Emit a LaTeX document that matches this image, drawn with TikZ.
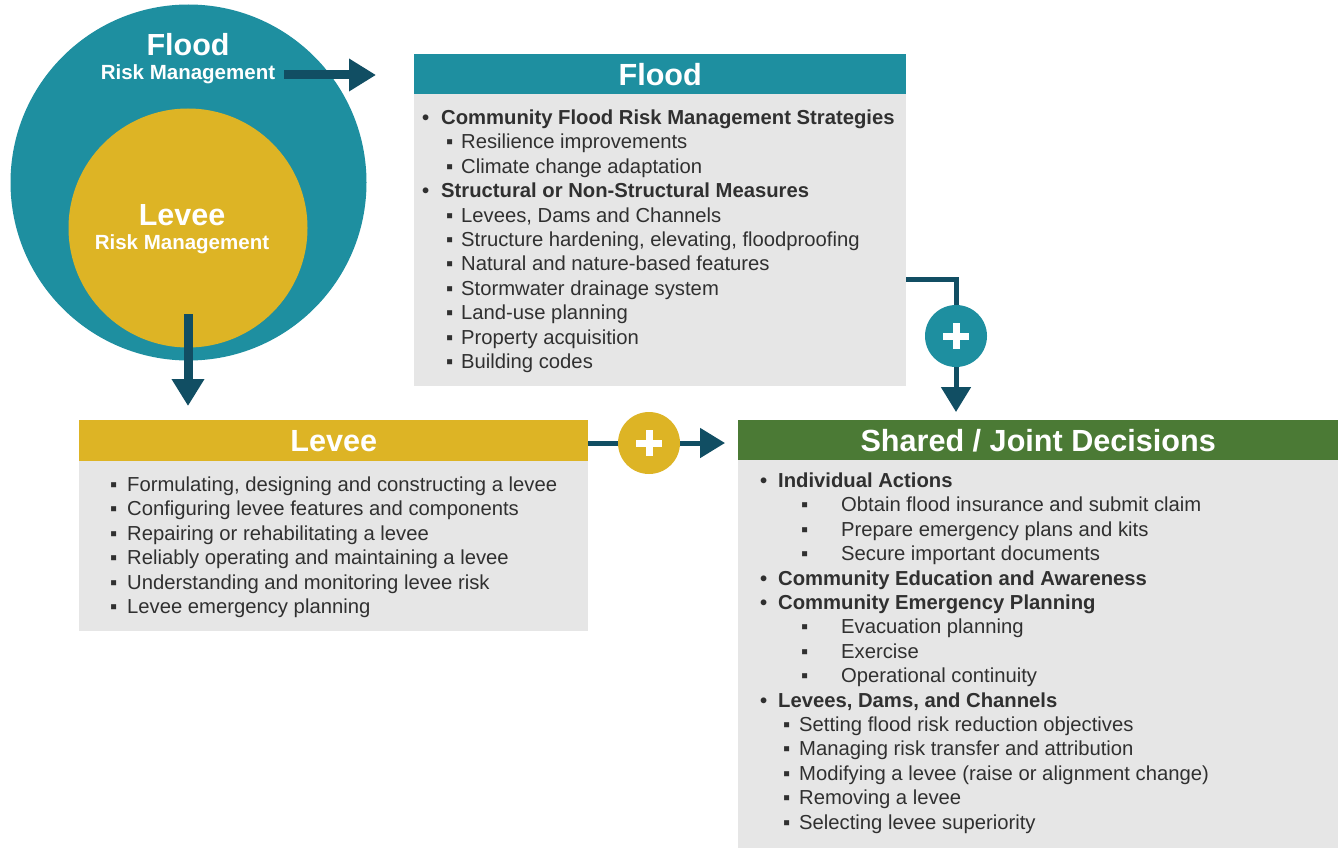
\documentclass[tikz,border=0pt]{standalone}
\usepackage{fontspec}
\setmainfont{Liberation Sans}
\usetikzlibrary{arrows.meta}
\definecolor{teal1}{HTML}{1E8FA0}
\definecolor{gold1}{HTML}{DDB425}
\definecolor{green1}{HTML}{4B7A35}
\definecolor{dark1}{HTML}{114E63}
\definecolor{grey1}{HTML}{E6E6E6}
\definecolor{txt}{HTML}{303030}
\tikzset{
  hdr/.style={rectangle, anchor=north west, inner sep=0pt, text=white,
    font=\fontsize{30.6}{32}\selectfont\bfseries, text height=21.8pt, text depth=0pt},
  bodybox/.style={rectangle, fill=grey1, anchor=north west, inner sep=0pt},
  mi/.style={anchor=base west, inner sep=0pt, text=txt, font=\fontsize{20.25}{24}\selectfont\bfseries},
  si/.style={anchor=base west, inner sep=0pt, text=txt, font=\fontsize{20.25}{24}\selectfont},
  ctitle/.style={anchor=base, inner sep=0pt, text=white, font=\fontsize{30.5}{32}\selectfont\bfseries},
  csub/.style={anchor=base, inner sep=0pt, text=white, font=\fontsize{20.5}{24}\selectfont\bfseries},
  bigarrow/.style={draw=dark1, line width=9pt, -{Triangle[length=27pt,width=31pt]}},
  conn/.style={draw=dark1, line width=5pt},
  connarrow/.style={draw=dark1, line width=5pt, -{Triangle[length=25pt,width=29pt]}},
  plusdisc/.style={circle, minimum size=62pt, inner sep=0pt},
  plusbar/.style={draw=white, line width=7pt}
}
\begin{document}
\begin{tikzpicture}[x=1pt,y=-1pt]
\useasboundingbox (0,0) rectangle (1338,848);
\fill[white] (0,0) rectangle (1338,848);

% circles
\node[circle, fill=teal1, minimum size=356pt, inner sep=0pt] (fc) at (188.5,182.5) {};
\node[circle, fill=gold1, minimum size=239pt, inner sep=0pt] (lc) at (188,228) {};
\node[ctitle] (fct) at (188,56) {Flood};
\node[csub] (fcs) at (188,80) {Risk Management};
\node[ctitle] (lct) at (182,225) {Levee};
\node[csub] (lcs) at (182,249) {Risk Management};

% Flood box
\node[hdr, fill=teal1, minimum width=492pt, minimum height=40pt] (fhdr) at (414,54) {Flood};
\node[bodybox, minimum width=492pt, minimum height=292pt] (fbody) at (414,94) {};
\node[mi] (f0) at (422,124.5) {\makebox[19pt][l]{•}Community Flood Risk Management Strategies};
\node[si] (f1) at (446,148.9) {\makebox[15pt][l]{▪}Resilience improvements};
\node[si] (f2) at (446,173.3) {\makebox[15pt][l]{▪}Climate change adaptation};
\node[mi] (f3) at (422,197.7) {\makebox[19pt][l]{•}Structural or Non-Structural Measures};
\node[si] (f4) at (446,222.1) {\makebox[15pt][l]{▪}Levees, Dams and Channels};
\node[si] (f5) at (446,246.5) {\makebox[15pt][l]{▪}Structure hardening, elevating, floodproofing};
\node[si] (f6) at (446,270.9) {\makebox[15pt][l]{▪}Natural and nature-based features};
\node[si] (f7) at (446,295.3) {\makebox[15pt][l]{▪}Stormwater drainage system};
\node[si] (f8) at (446,319.7) {\makebox[15pt][l]{▪}Land-use planning};
\node[si] (f9) at (446,344.1) {\makebox[15pt][l]{▪}Property acquisition};
\node[si] (f10) at (446,368.5) {\makebox[15pt][l]{▪}Building codes};

% Levee box
\node[hdr, fill=gold1, minimum width=509pt, minimum height=41pt] (lhdr) at (79,420) {Levee};
\node[bodybox, minimum width=509pt, minimum height=170pt] (lbody) at (79,461) {};
\node[si] (l0) at (110,491.5) {\makebox[17pt][l]{▪}Formulating, designing and constructing a levee};
\node[si] (l1) at (110,515.9) {\makebox[17pt][l]{▪}Configuring levee features and components};
\node[si] (l2) at (110,540.3) {\makebox[17pt][l]{▪}Repairing or rehabilitating a levee};
\node[si] (l3) at (110,564.7) {\makebox[17pt][l]{▪}Reliably operating and maintaining a levee};
\node[si] (l4) at (110,589.1) {\makebox[17pt][l]{▪}Understanding and monitoring levee risk};
\node[si] (l5) at (110,613.5) {\makebox[17pt][l]{▪}Levee emergency planning};

% Shared box
\node[hdr, fill=green1, minimum width=600pt, minimum height=40pt] (shdr) at (738,420) {Shared / Joint Decisions};
\node[bodybox, minimum width=600pt, minimum height=388pt] (sbody) at (738,460) {};
\node[mi] (s0) at (760,487.5) {\makebox[18pt][l]{•}Individual Actions};
\node[si] (s1) at (801,511.9) {\makebox[40pt][l]{▪}Obtain flood insurance and submit claim};
\node[si] (s2) at (801,536.3) {\makebox[40pt][l]{▪}Prepare emergency plans and kits};
\node[si] (s3) at (801,560.7) {\makebox[40pt][l]{▪}Secure important documents};
\node[mi] (s4) at (760,585.1) {\makebox[18pt][l]{•}Community Education and Awareness};
\node[mi] (s5) at (760,609.5) {\makebox[18pt][l]{•}Community Emergency Planning};
\node[si] (s6) at (801,633.9) {\makebox[40pt][l]{▪}Evacuation planning};
\node[si] (s7) at (801,658.3) {\makebox[40pt][l]{▪}Exercise};
\node[si] (s8) at (801,682.7) {\makebox[40pt][l]{▪}Operational continuity};
\node[mi] (s9) at (760,707.1) {\makebox[18pt][l]{•}Levees, Dams, and Channels};
\node[si] (s10) at (783,731.5) {\makebox[16pt][l]{▪}Setting flood risk reduction objectives};
\node[si] (s11) at (783,755.9) {\makebox[16pt][l]{▪}Managing risk transfer and attribution};
\node[si] (s12) at (783,780.3) {\makebox[16pt][l]{▪}Modifying a levee (raise or alignment change)};
\node[si] (s13) at (783,804.7) {\makebox[16pt][l]{▪}Removing a levee};
\node[si] (s14) at (783,829.1) {\makebox[16pt][l]{▪}Selecting levee superiority};

% big arrows
\coordinate (a1s) at (284,75);
\coordinate (a1e) at (376,75);
\draw[bigarrow] (a1s) -- (a1e);
\coordinate (a2s) at (188,314);
\coordinate (a2e) at (188,406);
\draw[bigarrow] (a2s) -- (a2e);

% plus discs
\node[plusdisc] (p1) at (956,336) {};
\node[plusdisc] (p2) at (649,443) {};

% connectors
\coordinate (c1s) at (fbody.east |- 0,279);
\coordinate (c1e) at (956,412);
\draw[conn] (c1s) -| (p1.north);
\draw[connarrow] (p1.south) -- (c1e);
\coordinate (c2s) at (lhdr.east |- 0,443);
\coordinate (c2e) at (725,443);
\draw[conn] (c2s) -- (p2.west);
\draw[connarrow] (p2.east) -- (c2e);

\fill[teal1] (p1) circle (31pt);
\fill[gold1] (p2) circle (31pt);
\draw[plusbar] ([xshift=-13pt]p1.center) -- ([xshift=13pt]p1.center);
\draw[plusbar] ([yshift=-13pt]p1.center) -- ([yshift=13pt]p1.center);
\draw[plusbar] ([xshift=-13pt]p2.center) -- ([xshift=13pt]p2.center);
\draw[plusbar] ([yshift=-13pt]p2.center) -- ([yshift=13pt]p2.center);
\end{tikzpicture}
\end{document}
